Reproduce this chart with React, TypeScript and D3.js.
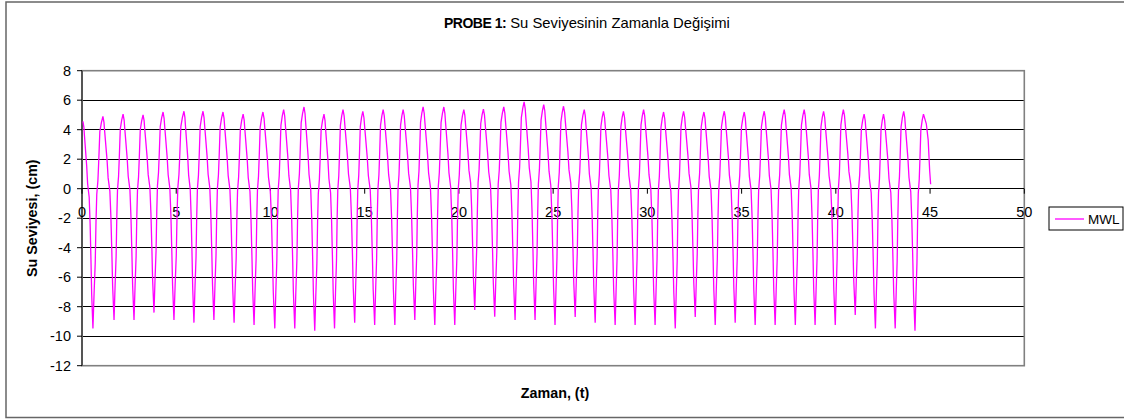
import React from "react";
import * as d3 from "d3";

// Wave crests (time in s, level in cm)
const peakTimes = [0.05, 1.11, 2.18, 3.24, 4.3, 5.41, 6.42, 7.48, 8.55, 9.6, 10.7, 11.78, 12.84, 13.85, 14.9, 15.98, 17.04, 18.1, 19.2, 20.26, 21.3, 22.38, 23.46, 24.5, 25.55, 26.65, 27.67, 28.73, 29.8, 30.86, 31.92, 33.0, 34.08, 35.14, 36.2, 37.26, 38.32, 39.35, 40.4, 41.5, 42.53, 43.6, 44.65];
const peakValues = [4.57, 4.9, 5.06, 5.0, 5.2, 5.25, 5.25, 5.2, 5.06, 5.2, 5.36, 5.54, 5.06, 5.36, 5.25, 5.36, 5.36, 5.54, 5.54, 5.36, 5.4, 5.54, 5.88, 5.7, 5.59, 5.36, 5.25, 5.25, 5.36, 5.2, 5.25, 5.2, 5.25, 5.2, 5.25, 5.36, 5.36, 5.25, 5.36, 5.06, 5.06, 5.25, 5.06];
// Wave troughs
const troughTimes = [0.58, 1.7, 2.76, 3.82, 4.88, 5.94, 7.0, 8.07, 9.13, 10.23, 11.29, 12.35, 13.4, 14.47, 15.53, 16.6, 17.66, 18.72, 19.78, 20.84, 21.9, 22.98, 24.04, 25.1, 26.17, 27.23, 28.29, 29.35, 30.41, 31.48, 32.54, 33.6, 34.66, 35.72, 36.78, 37.85, 38.9, 39.97, 41.03, 42.1, 43.15, 44.2];
const troughValues = [-9.47, -8.9, -8.9, -8.4, -8.9, -9.08, -8.9, -9.08, -9.24, -9.47, -9.47, -9.63, -9.47, -9.08, -9.24, -9.24, -8.9, -9.24, -9.24, -8.22, -8.68, -8.9, -8.9, -9.24, -8.7, -9.08, -9.24, -9.24, -9.24, -9.47, -8.7, -9.24, -9.08, -9.24, -9.24, -9.24, -9.24, -9.24, -8.56, -9.47, -9.47, -9.63];
// Measured wave profile (fraction of limb duration, fraction of crest-trough height)
const descT = [0.094, 0.156, 0.375, 0.469, 0.625, 0.719, 0.8125, 0.875];
const descH = [0.029, 0.072, 0.216, 0.302, 0.367, 0.496, 0.69, 0.835];
const ascT = [0.115, 0.23, 0.308, 0.385, 0.5, 0.577, 0.692, 0.846];
const ascH = [0.165, 0.309, 0.504, 0.633, 0.698, 0.784, 0.928, 0.971];
// Final samples after the last crest
const tailTimes = [44.8, 44.9, 44.98, 45.03];
const tailValues = [4.4, 3.3, 1.2, 0.3];

const xTicks = [0, 5, 10, 15, 20, 25, 30, 35, 40, 45, 50];
const yTicks = [-12, -10, -8, -6, -4, -2, 0, 2, 4, 6, 8];

const title1 = "PROBE 1:";
const title2 = " Su Seviyesinin Zamanla Değişimi";
const xTitle = "Zaman, (t)";
const yTitle = "Su Seviyesi, (cm)";
const seriesName = "MWL";

function buildSeries(): [number, number][] {
  const pts: [number, number][] = [];
  for (let i = 0; i < peakTimes.length; i++) {
    const tc = peakTimes[i];
    const vc = peakValues[i];
    pts.push([tc, vc]);
    if (i < troughTimes.length) {
      const tt = troughTimes[i];
      const vt = troughValues[i];
      for (let k = 0; k < descT.length; k++) {
        pts.push([tc + (tt - tc) * descT[k], vc - (vc - vt) * descH[k]]);
      }
      pts.push([tt, vt]);
      if (i + 1 < peakTimes.length) {
        const tn = peakTimes[i + 1];
        const vn = peakValues[i + 1];
        for (let k = 0; k < ascT.length; k++) {
          pts.push([tt + (tn - tt) * ascT[k], vt + (vn - vt) * ascH[k]]);
        }
      }
    }
  }
  for (let k = 0; k < tailTimes.length; k++) pts.push([tailTimes[k], tailValues[k]]);
  return pts;
}

export default function App() {
  const W = 1124;
  const H = 419;
  const left = 82;
  const right = 1024.3;
  const top = 70.7;
  const bottom = 365.7;
  const x = d3.scaleLinear().domain([0, 50]).range([left, right]);
  const y = d3.scaleLinear().domain([-12, 8]).range([bottom, top]);
  const data = buildSeries();
  const line = d3
    .line<[number, number]>()
    .x((d) => x(d[0]))
    .y((d) => y(d[1]));
  const font = "'Liberation Sans', Arial, sans-serif";
  const y0 = y(0);

  return (
    <svg
      width={W}
      height={H}
      style={{ position: "absolute", left: 0, top: 0, background: "#fff" }}
      fontFamily={font}
    >
      <rect x={0} y={0} width={W} height={H} fill="#fff" />
      <rect x={6} y={2} width={1130} height={415.5} fill="none" stroke="#666" strokeWidth={1.5} />
      {/* title */}
      <text x={444} y={28} fill="#000">
        <tspan fontWeight="bold" fontSize={14} letterSpacing={-0.5}>{title1}</tspan>
        <tspan fontSize={14.8}>{title2}</tspan>
      </text>
      {/* gridlines */}
      {yTicks.map((t) =>
        t === 8 || t === -12 ? null : (
          <line key={"g" + t} x1={left} x2={right} y1={y(t)} y2={y(t)} stroke="#000" strokeWidth={1} shapeRendering="crispEdges" />
        )
      )}
      {/* plot frame */}
      <rect x={left} y={top} width={right - left} height={bottom - top} fill="none" stroke="#808080" strokeWidth={1.6} />
      {/* y axis */}
      <line x1={left} x2={left} y1={top} y2={bottom} stroke="#555" strokeWidth={2} />
      {yTicks.map((t) => (
        <g key={"yt" + t}>
          <line x1={left - 5} x2={left} y1={y(t)} y2={y(t)} stroke="#000" strokeWidth={1} />
          <text x={71} y={y(t) + 5} textAnchor="end" fontSize={14.5} fill="#000">
            {t}
          </text>
        </g>
      ))}
      {/* x axis at zero */}
      <line x1={left} x2={right} y1={y0} y2={y0} stroke="#000" strokeWidth={1} shapeRendering="crispEdges" />
      {xTicks.map((t) => (
        <g key={"xt" + t}>
          <line x1={x(t)} x2={x(t)} y1={y0} y2={y0 + 5} stroke="#000" strokeWidth={1} />
          <text x={x(t)} y={y0 + 28} textAnchor="middle" fontSize={14.5} fill="#000">
            {t}
          </text>
        </g>
      ))}
      {/* series */}
      <path d={line(data) || ""} fill="none" stroke="#ff00ff" strokeWidth={1.3} />
      {/* axis titles */}
      <text x={555} y={398} textAnchor="middle" fontSize={14.3} fontWeight="bold" fill="#000">
        {xTitle}
      </text>
      <text
        transform={`translate(37,${(top + bottom) / 2}) rotate(-90)`}
        textAnchor="middle"
        fontSize={14.3}
        fontWeight="bold"
        fill="#000"
      >
        {yTitle}
      </text>
      {/* legend */}
      <rect x={1049} y={207} width={74} height={23} fill="#fff" stroke="#000" strokeWidth={1} />
      <line x1={1055} x2={1084} y1={219} y2={219} stroke="#ff00ff" strokeWidth={1.3} />
      <text x={1088} y={224} fontSize={13.5} fill="#000">
        {seriesName}
      </text>
    </svg>
  );
}
